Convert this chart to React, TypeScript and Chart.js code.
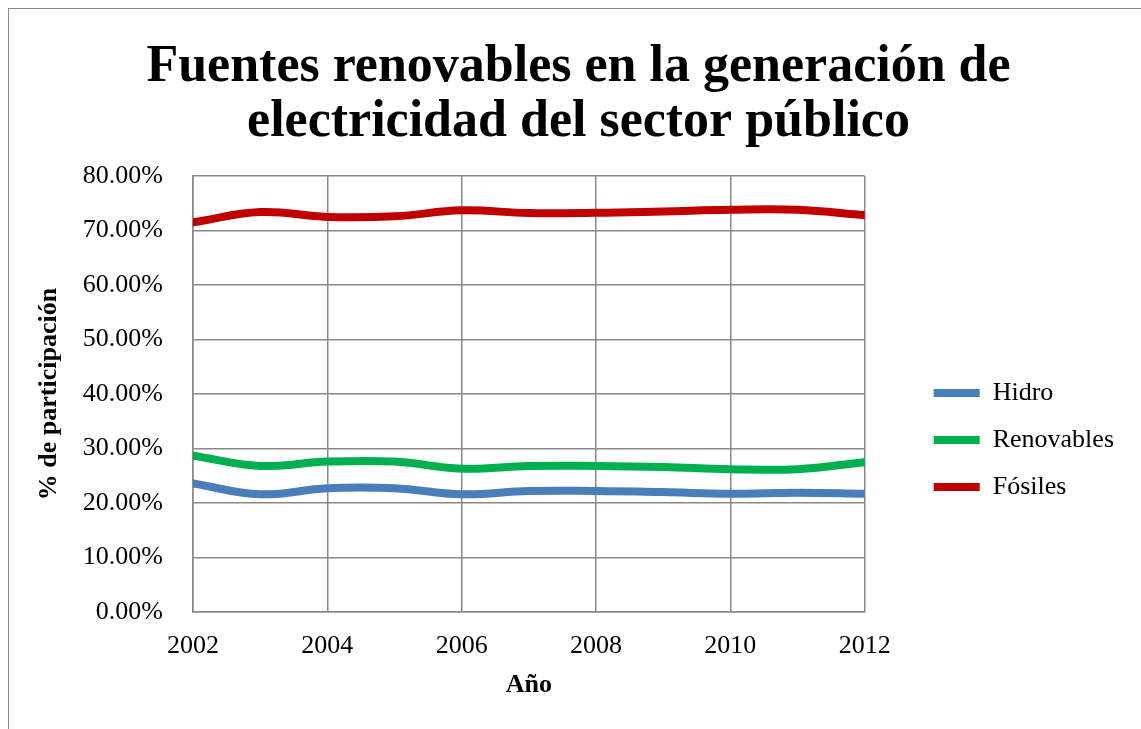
import React, { useEffect, useRef } from "react";
import { Chart, registerables } from "chart.js";

Chart.register(...registerables);

const years = [2002, 2003, 2004, 2005, 2006, 2007, 2008, 2009, 2010, 2011, 2012];
const hidro = [23.6, 21.6, 22.7, 22.7, 21.6, 22.2, 22.2, 22.0, 21.7, 21.9, 21.7];
const renovables = [28.7, 26.8, 27.6, 27.6, 26.3, 26.8, 26.8, 26.6, 26.2, 26.2, 27.5];
const fosiles = [71.5, 73.4, 72.5, 72.6, 73.7, 73.2, 73.25, 73.5, 73.8, 73.8, 72.8];
const seriesNames = ["Hidro", "Renovables", "Fósiles"];
const seriesColors = ["#4A7EBB", "#00B050", "#C00000"];
const titleLines = ["Fuentes renovables en la generación de", "electricidad del sector público"];
const xTitle = "Año";
const yTitle = "% de participación";

const FONT = "'Liberation Serif', 'Times New Roman', serif";

export default function App() {
  const ref = useRef<HTMLCanvasElement | null>(null);

  useEffect(() => {
    if (!ref.current) return;
    const allSeries = [hidro, renovables, fosiles];
    const chart = new Chart(ref.current, {
      type: "line",
      data: {
        datasets: allSeries.map((vals, i) => ({
          label: seriesNames[i],
          data: years.map((y, j) => ({ x: y, y: vals[j] })),
          borderColor: seriesColors[i],
          backgroundColor: seriesColors[i],
          borderWidth: 8,
          borderCapStyle: "round",
          borderJoinStyle: "round",
          pointRadius: 0,
          pointHoverRadius: 0,
          tension: 0.4,
          fill: false,
        })),
      },
      options: {
        responsive: false,
        animation: false,
        layout: { padding: { left: 24, right: 17, top: 0, bottom: 0 } },
        plugins: {
          title: {
            display: true,
            text: titleLines,
            color: "#000",
            font: { family: FONT, size: 52, weight: "bold", lineHeight: 1.06 },
            padding: { top: 31, bottom: 25.8 },
          },
          legend: {
            display: true,
            position: "right",
            fullSize: false,
            align: "center",
            maxWidth: 320,
            title: {
              display: true,
              text: " ",
              font: { family: FONT, size: 20, lineHeight: 1 },
              padding: 36,
            },
            labels: {
              usePointStyle: true,
              pointStyle: "line",
              pointStyleWidth: 46,
              padding: 21,
              color: "#000",
              font: { family: FONT, size: 26 },
            },
          },
          tooltip: { enabled: false },
        },
        scales: {
          x: {
            type: "linear",
            min: 2002,
            max: 2012,
            grid: { color: "#888", lineWidth: 1.5, drawTicks: false },
            border: { color: "#888", width: 1.5 },
            ticks: {
              stepSize: 2,
              padding: 18.4,
              color: "#000",
              font: { family: FONT, size: 26 },
              callback: (v: any) => String(v),
              maxRotation: 0,
            },
            title: {
              display: true,
              text: xTitle,
              color: "#000",
              font: { family: FONT, size: 26, weight: "bold" },
              padding: { top: 0, bottom: 28.4 },
            },
            afterFit: (s: any) => {
              s.height = 117;
            },
          },
          y: {
            type: "linear",
            min: 0,
            max: 80,
            grid: { color: "#888", lineWidth: 1.5, drawTicks: false },
            border: { color: "#888", width: 1.5 },
            ticks: {
              stepSize: 10,
              padding: 30,
              color: "#000",
              font: { family: FONT, size: 26 },
              callback: (v: any) => Number(v).toFixed(2) + "%",
            },
            title: {
              display: true,
              text: yTitle,
              color: "#000",
              font: { family: FONT, size: 26, weight: "bold" },
              padding: { top: 0.4, bottom: 0 },
            },
            afterFit: (s: any) => {
              s.width = 160;
            },
          },
          yR: {
            type: "linear",
            position: "right",
            display: true,
            grid: { display: false },
            border: { display: false },
            ticks: { display: false },
            afterFit: (s: any) => {
              s.width = 48;
            },
          },
        },
      },
    } as any);
    return () => chart.destroy();
  }, []);

  return (
    <div
      style={{
        position: "fixed",
        left: 8,
        top: 8,
        width: 1133,
        height: 721,
        overflow: "hidden",
        borderTop: "1px solid #888",
        borderLeft: "1px solid #888",
        background: "#fff",
      }}
    >
      <canvas ref={ref} width={1132} height={720} style={{ display: "block", width: 1132, height: 720 }} />
    </div>
  );
}
